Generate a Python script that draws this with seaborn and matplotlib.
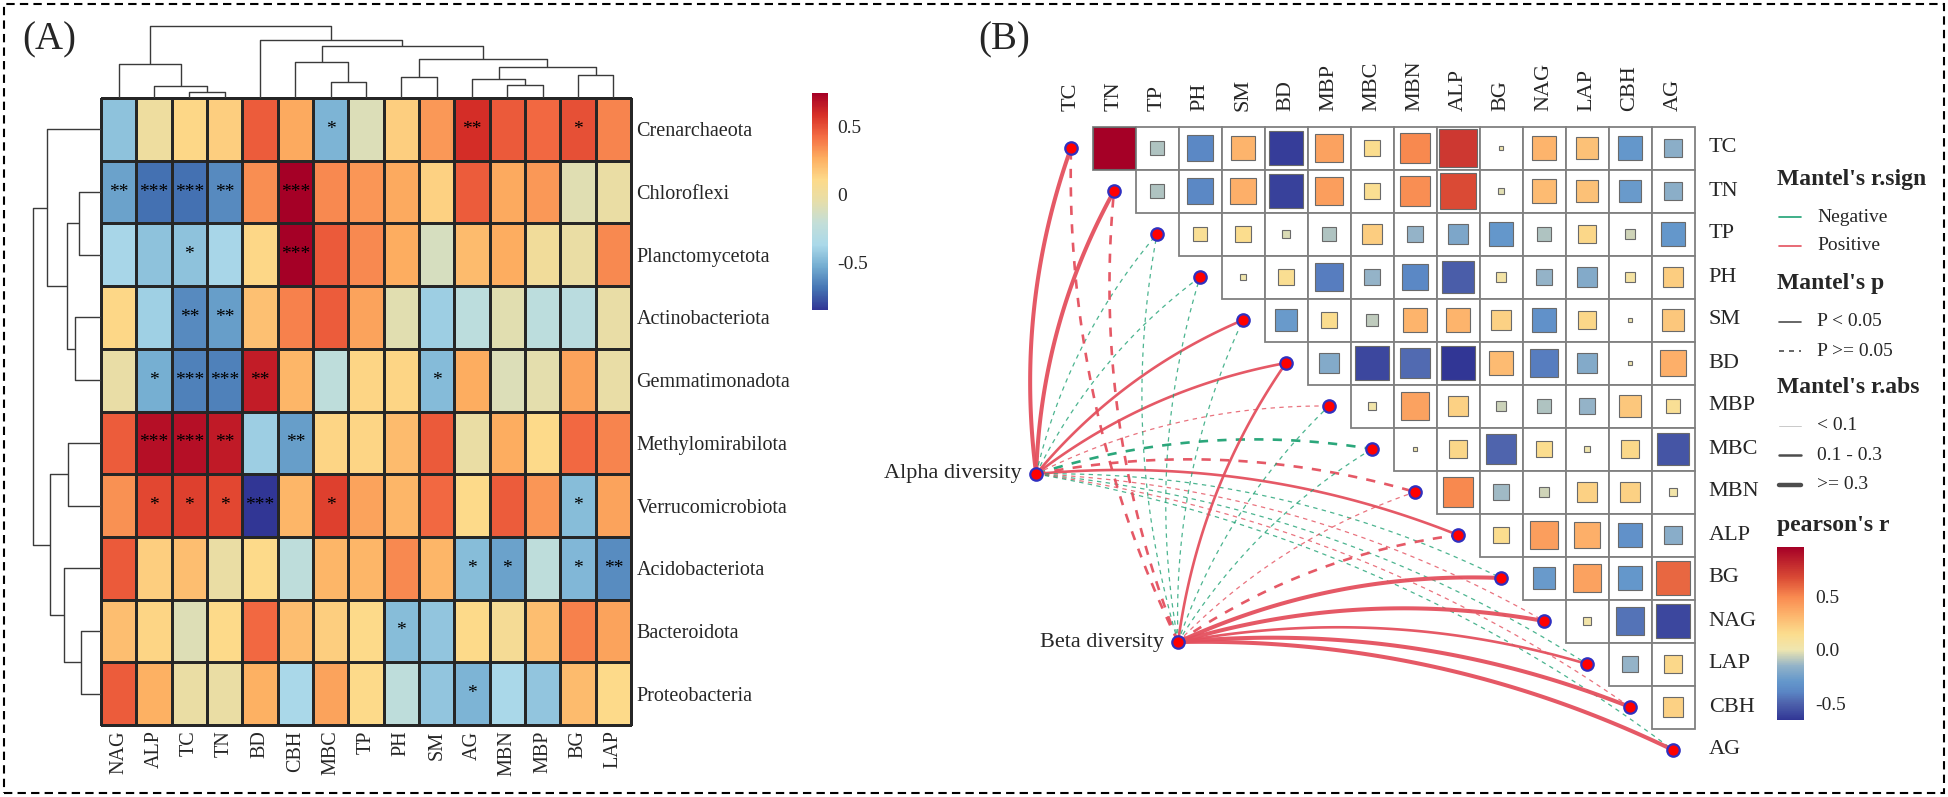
import numpy as np
import pandas as pd
import matplotlib
matplotlib.use("Agg")
import matplotlib.pyplot as plt
import seaborn as sns
from matplotlib.colors import LinearSegmentedColormap, Normalize
from matplotlib.patches import Rectangle
from matplotlib.lines import Line2D
from matplotlib.cm import ScalarMappable

sns.set_theme(style="white")
plt.rcParams['font.family'] = ['Liberation Serif', 'DejaVu Serif']

# ---------------- Panel A data ----------------
cols_A = ["NAG", "ALP", "TC", "TN", "BD", "CBH", "MBC", "TP", "PH", "SM", "AG", "MBN", "MBP", "BG", "LAP"]
rows_A = ["Crenarchaeota", "Chloroflexi", "Planctomycetota", "Actinobacteriota", "Gemmatimonadota",
          "Methylomirabilota", "Verrucomicrobiota", "Acidobacteriota", "Bacteroidota", "Proteobacteria"]

r_cren = [-0.45, 0.00, 0.12, 0.15, 0.47, 0.28, -0.50, -0.10, 0.15, 0.32, 0.60, 0.48, 0.44, 0.50, 0.37]
r_chlo = [-0.56, -0.70, -0.70, -0.63, 0.35, 0.75, 0.36, 0.33, 0.28, 0.14, 0.47, 0.28, 0.32, -0.08, -0.02]
r_plan = [-0.38, -0.45, -0.45, -0.38, 0.12, 0.75, 0.48, 0.36, 0.27, -0.12, 0.22, 0.27, 0.03, -0.02, 0.36]
r_acti = [0.12, -0.40, -0.63, -0.57, 0.20, 0.38, 0.47, 0.30, -0.07, -0.41, -0.25, -0.07, -0.25, -0.27, -0.03]
r_gemm = [-0.03, -0.52, -0.65, -0.65, 0.65, 0.24, -0.24, 0.13, 0.13, -0.48, 0.27, -0.10, -0.06, 0.30, -0.03]
r_meth = [0.47, 0.70, 0.70, 0.66, -0.41, -0.57, 0.13, 0.13, 0.22, 0.48, -0.02, 0.27, 0.11, 0.44, 0.37]
r_verr = [0.34, 0.53, 0.55, 0.53, -0.85, 0.24, 0.55, 0.30, 0.24, 0.44, 0.11, 0.47, 0.33, -0.47, 0.30]
r_acid = [0.48, 0.15, 0.21, -0.02, 0.11, -0.24, 0.24, 0.24, 0.36, 0.24, -0.47, -0.56, -0.24, -0.49, -0.62]
r_bact = [0.21, 0.13, -0.09, 0.11, 0.44, 0.21, 0.15, 0.11, -0.47, -0.44, 0.11, 0.05, 0.21, 0.38, 0.30]
r_prot = [0.47, 0.26, -0.02, -0.02, 0.26, -0.37, 0.30, 0.11, -0.24, -0.44, -0.50, -0.37, -0.44, 0.22, 0.11]

s_cren = ["", "", "", "", "", "", "*", "", "", "", "**", "", "", "*", ""]
s_chlo = ["**", "***", "***", "**", "", "***", "", "", "", "", "", "", "", "", ""]
s_plan = ["", "", "*", "", "", "***", "", "", "", "", "", "", "", "", ""]
s_acti = ["", "", "**", "**", "", "", "", "", "", "", "", "", "", "", ""]
s_gemm = ["", "*", "***", "***", "**", "", "", "", "", "*", "", "", "", "", ""]
s_meth = ["", "***", "***", "**", "", "**", "", "", "", "", "", "", "", "", ""]
s_verr = ["", "*", "*", "*", "***", "", "*", "", "", "", "", "", "", "*", ""]
s_acid = ["", "", "", "", "", "", "", "", "", "", "*", "*", "", "*", "**"]
s_bact = ["", "", "", "", "", "", "", "", "*", "", "", "", "", "", ""]
s_prot = ["", "", "", "", "", "", "", "", "", "", "*", "", "", "", ""]

# dendrogram merges: (name, left, right, height)
col_merges = [("c1", "TC", "TN", 6.0), ("c2", "ALP", "c1", 12.3), ("c3", "NAG", "c2", 34.0),
              ("c4", "MBC", "TP", 16.3), ("c5", "CBH", "c4", 36.0), ("c6", "PH", "SM", 21.3),
              ("c7", "MBN", "MBP", 13.0), ("c8", "AG", "c7", 19.3), ("c9", "BG", "LAP", 23.0),
              ("c10", "c8", "c9", 31.0), ("c11", "c6", "c10", 39.0), ("c12", "c5", "c11", 52.0),
              ("c13", "BD", "c12", 58.0), ("c14", "c3", "c13", 72.0)]
row_merges = [("r1", "Chloroflexi", "Planctomycetota", 22.0), ("r2", "Actinobacteriota", "Gemmatimonadota", 26.0),
              ("r3", "r1", "r2", 34.0), ("r4", "Crenarchaeota", "r3", 54.0),
              ("r5", "Methylomirabilota", "Verrucomicrobiota", 33.0), ("r6", "Bacteroidota", "Proteobacteria", 20.0),
              ("r7", "Acidobacteriota", "r6", 37.0), ("r8", "r5", "r7", 51.0), ("r9", "r4", "r8", 68.0)]

# ---------------- Panel B data ----------------
env = ["TC", "TN", "TP", "PH", "SM", "BD", "MBP", "MBC", "MBN", "ALP", "BG", "NAG", "LAP", "CBH", "AG"]
# upper-triangle pearson's r, row by row (values for the columns to the right of the diagonal)
r_TC = [0.97, -0.10, -0.38, 0.33, -0.63, 0.40, 0.15, 0.50, 0.75, 0.01, 0.33, 0.27, -0.30, -0.17]
r_TN = [-0.10, -0.38, 0.35, -0.62, 0.42, 0.13, 0.48, 0.68, -0.02, 0.30, 0.27, -0.28, -0.17]
r_TP = [0.12, 0.15, -0.03, -0.10, 0.22, -0.15, -0.22, -0.30, -0.10, 0.18, -0.05, -0.30]
r_PH = [0.02, 0.13, -0.42, -0.15, -0.38, -0.52, 0.05, -0.15, -0.20, 0.06, 0.22]
r_SM = [-0.28, 0.15, -0.08, 0.33, 0.33, 0.20, -0.33, 0.18, 0.01, 0.25]
r_BD = [-0.20, -0.60, -0.48, -0.66, 0.30, -0.42, -0.20, 0.01, 0.35]
r_MBP = [0.03, 0.40, 0.20, -0.06, -0.10, -0.15, 0.25, 0.12]
r_MBC = [0.01, 0.18, -0.50, 0.15, 0.02, 0.17, -0.55]
r_MBN = [0.50, -0.13, -0.05, 0.20, 0.20, 0.04]
r_ALP = [0.15, 0.42, 0.35, -0.33, -0.18]
r_BG = [-0.28, 0.40, -0.30, 0.60]
r_NAG = [0.04, -0.45, -0.60]
r_LAP = [-0.15, 0.17]
r_CBH = [0.20]

spec = ["Alpha diversity", "Beta diversity"]
mantel_r_alpha = [0.35, 0.33, -0.05, -0.06, 0.20, 0.22, 0.05, -0.15, 0.15, 0.18, -0.04, 0.05, -0.03, 0.04, -0.05]
mantel_p_alpha = [0.01, 0.01, 0.60, 0.50, 0.03, 0.02, 0.40, 0.10, 0.08, 0.04, 0.70, 0.50, 0.80, 0.60, 0.60]
mantel_r_beta = [0.20, 0.20, -0.05, -0.06, -0.04, 0.20, -0.05, -0.07, 0.06, 0.15, 0.40, 0.38, 0.28, 0.36, 0.40]
mantel_p_beta = [0.07, 0.08, 0.60, 0.70, 0.50, 0.02, 0.50, 0.40, 0.30, 0.10, 0.001, 0.001, 0.01, 0.001, 0.001]

# ---------------- figure / layout ----------------
W, H = 1948, 797
fig = plt.figure(figsize=(W / 100, H / 100), dpi=100)
fig.patch.set_facecolor("white")


def box(x0, y0, x1, y1):
    return [x0 / W, 1 - y1 / H, (x1 - x0) / W, (y1 - y0) / H]


def fx(px):
    return px / W


def fy(py):
    return 1 - py / H


def make_cmap(anchors, vmin, vmax, name):
    return LinearSegmentedColormap.from_list(name, [((v - vmin) / (vmax - vmin), c) for v, c in anchors])


vminA, vmaxA = -0.85, 0.75
cmapA = make_cmap([(-0.85, '#313695'), (-0.69, '#4575B4'), (-0.53, '#74ADD1'), (-0.37, '#ABD9E9'),
                   (-0.21, '#C3DED8'), (-0.05, '#E6DEAA'), (0.11, '#FDDA8A'), (0.27, '#FDAE61'),
                   (0.43, '#F46D43'), (0.59, '#D73027'), (0.75, '#A50026')], vminA, vmaxA, "A")

# ---------------- Panel A: heatmap ----------------
vals_A = pd.DataFrame([r_cren, r_chlo, r_plan, r_acti, r_gemm, r_meth, r_verr, r_acid, r_bact, r_prot],
                      index=rows_A, columns=cols_A)
stars_A = np.array([s_cren, s_chlo, s_plan, s_acti, s_gemm, s_meth, s_verr, s_acid, s_bact, s_prot])

ax_hm = fig.add_axes(box(101, 98, 631, 725))
cax_A = fig.add_axes(box(812, 93, 828, 310))
sns.heatmap(vals_A, ax=ax_hm, cmap=cmapA, vmin=vminA, vmax=vmaxA, annot=stars_A, fmt="",
            annot_kws={"fontsize": 14, "color": "black"}, linewidths=0.9, linecolor="#262626",
            cbar_ax=cax_A, cbar_kws={"ticks": [0.5, 0.0, -0.5]})
ax_hm.collections[0].set_clip_on(False)
ax_hm.set_xlabel("")
ax_hm.set_ylabel("")
ax_hm.set_xticklabels(cols_A, rotation=90, fontsize=14.5)
ax_hm.yaxis.tick_right()
ax_hm.set_yticklabels(rows_A, rotation=0, fontsize=14.5, ha="left")
ax_hm.tick_params(axis="both", length=0, pad=4)
cbA = ax_hm.collections[0].colorbar
cbA.outline.set_visible(False)
cbA.set_ticks([0.5, 0.0, -0.5])
cbA.set_ticklabels(["0.5", "0", "-0.5"])
cax_A.tick_params(length=0, labelsize=14, pad=7)


def draw_dendro(ax, leaves, merges, orient):
    pos = {n: i + 0.5 for i, n in enumerate(leaves)}
    hgt = {n: 0.0 for n in leaves}
    for name, a, b, h in merges:
        xs = [pos[a], pos[a], pos[b], pos[b]]
        ys = [hgt[a], h, h, hgt[b]]
        if orient == "top":
            ax.plot(xs, ys, color="#3a3a3a", lw=1.0, solid_capstyle="butt")
        else:
            ax.plot(ys, xs, color="#3a3a3a", lw=1.0, solid_capstyle="butt")
        pos[name] = (pos[a] + pos[b]) / 2
        hgt[name] = h


ax_dc = fig.add_axes(box(101, 15, 631, 98))
draw_dendro(ax_dc, cols_A, col_merges, "top")
ax_dc.set_xlim(0, len(cols_A))
ax_dc.set_ylim(0, 83)
ax_dc.axis("off")

ax_dr = fig.add_axes(box(20, 98, 101, 725))
draw_dendro(ax_dr, rows_A, row_merges, "left")
ax_dr.set_xlim(81, 0)
ax_dr.set_ylim(len(rows_A), 0)
ax_dr.axis("off")

# ---------------- Panel B ----------------
vminB, vmaxB = -0.66, 0.97
cmapB = make_cmap([(-0.66, '#313695'), (-0.5, '#4F64AD'), (-0.4, '#5A85C4'), (-0.3, '#6497CB'),
                   (-0.15, '#93B3C8'), (0.0, '#EFE6B0'), (0.15, '#FBDD8E'), (0.33, '#FDB46C'),
                   (0.5, '#F98A50'), (0.68, '#DA4B35'), (0.97, '#A50026')], vminB, vmaxB, "B")
normB = Normalize(vminB, vmaxB)

axB = fig.add_axes(box(940, 0, 1948, 797))
cell = 43.0
axB.set_xlim((940 - 1071) / cell, (1948 - 1071) / cell)
axB.set_ylim((797 - 148) / cell, (0 - 148) / cell)
axB.axis("off")

upper_rows = [r_TC, r_TN, r_TP, r_PH, r_SM, r_BD, r_MBP, r_MBC, r_MBN, r_ALP, r_BG, r_NAG, r_LAP, r_CBH]
for i, rr in enumerate(upper_rows):
    for k, r in enumerate(rr):
        j = i + 1 + k
        axB.add_patch(Rectangle((j - 0.5, i - 0.5), 1, 1, fc="white", ec="#808080", lw=1.3, zorder=1))
        s = min(np.sqrt(abs(r)), 1.0)
        axB.add_patch(Rectangle((j - s / 2, i - s / 2), s, s, fc=cmapB(normB(r)), ec="#6a6a6a",
                                lw=0.8, zorder=2))

for j, name in enumerate(env):
    axB.text(j, -0.87, name, rotation=90, ha="center", va="bottom", fontsize=16)
    axB.text(14.83, j, name, ha="left", va="center", fontsize=16)

spec_pos = [(-0.81, 7.58), (2.49, 11.49)]
pos_col = "#E4505E"
neg_col = "#1FA274"


def width_of(r):
    a = abs(r)
    return 0.9 if a < 0.1 else (1.9 if a < 0.3 else 2.9)


curv = 0.12
for (sx, sy), mr, mp in zip(spec_pos, [mantel_r_alpha, mantel_r_beta], [mantel_p_alpha, mantel_p_beta]):
    for k in range(len(env)):
        ex, ey = float(k), float(k)
        dx, dy = ex - sx, ey - sy
        L = np.hypot(dx, dy)
        nx, ny = dy / L, -dx / L
        cx, cy = (sx + ex) / 2 + curv * L * nx, (sy + ey) / 2 + curv * L * ny
        t = np.linspace(0, 1, 80)
        bx = (1 - t) ** 2 * sx + 2 * (1 - t) * t * cx + t ** 2 * ex
        by = (1 - t) ** 2 * sy + 2 * (1 - t) * t * cy + t ** 2 * ey
        col = pos_col if mr[k] > 0 else neg_col
        ls = "-" if mp[k] < 0.05 else (0, (3.5, 3.5))
        lw = width_of(mr[k])
        axB.plot(bx, by, color=col, lw=lw, ls=ls, zorder=3, alpha=0.95 if lw > 1 else 0.8)

node_x = [float(k) for k in range(len(env))] + [p[0] for p in spec_pos]
node_y = [float(k) for k in range(len(env))] + [p[1] for p in spec_pos]
sns.scatterplot(x=node_x, y=node_y, ax=axB, s=80, color="#FF0000", edgecolor="#3030C0",
                linewidth=1.6, zorder=6, legend=False)
axB.set_xlim((940 - 1071) / cell, (1948 - 1071) / cell)
axB.set_ylim((797 - 148) / cell, (0 - 148) / cell)
axB.axis("off")
for (sx, sy), name in zip(spec_pos, spec):
    axB.text(sx - 0.33, sy, name, ha="right", va="center", fontsize=16)

# legend of panel B
def leg_line(y, color, lw, ls="-"):
    fig.add_artist(Line2D([fx(1779), fx(1801)], [fy(y), fy(y)], color=color, lw=lw, ls=ls,
                          transform=fig.transFigure))


fig.text(fx(1777), fy(180), "Mantel's r.sign", fontsize=17, fontweight="bold", va="center")
leg_line(217, neg_col, 1.2)
fig.text(fx(1817), fy(217), "Negative", fontsize=14, va="center")
leg_line(246, pos_col, 1.2)
fig.text(fx(1817), fy(246), "Positive", fontsize=14, va="center")
fig.text(fx(1777), fy(284), "Mantel's p", fontsize=17, fontweight="bold", va="center")
leg_line(322, "#4d4d4d", 1.2)
fig.text(fx(1817), fy(322), "P < 0.05", fontsize=14, va="center")
leg_line(351, "#4d4d4d", 1.2, (0, (3, 3)))
fig.text(fx(1817), fy(351), "P >= 0.05", fontsize=14, va="center")
fig.text(fx(1777), fy(388), "Mantel's r.abs", fontsize=17, fontweight="bold", va="center")
leg_line(426, "#c0c0c0", 0.6)
fig.text(fx(1817), fy(426), "< 0.1", fontsize=14, va="center")
leg_line(455, "#4d4d4d", 1.8)
fig.text(fx(1817), fy(455), "0.1 - 0.3", fontsize=14, va="center")
leg_line(485, "#4d4d4d", 3.2)
fig.text(fx(1817), fy(485), ">= 0.3", fontsize=14, va="center")
fig.text(fx(1777), fy(525), "pearson's r", fontsize=17, fontweight="bold", va="center")

cax_B = fig.add_axes(box(1777, 547, 1804, 720))
cbB = fig.colorbar(ScalarMappable(norm=normB, cmap=cmapB), cax=cax_B, ticks=[0.5, 0.0, -0.5])
cbB.outline.set_visible(False)
cbB.set_ticklabels(["0.5", "0.0", "-0.5"])
cax_B.tick_params(length=5, width=1, color="white", direction="in", labelsize=14, pad=8)

# panel labels and frame
fig.text(fx(22), fy(40), "(A)", fontsize=28, va="center", ha="left")
fig.text(fx(978), fy(40), "(B)", fontsize=28, va="center", ha="left")
fig.add_artist(Rectangle((fx(4), fy(793)), fx(1940), (789) / H, transform=fig.transFigure,
                         fill=False, ec="black", lw=1.5, ls=(0, (4, 2.5))))

fig.savefig("out.png", dpi=100, facecolor="white")
